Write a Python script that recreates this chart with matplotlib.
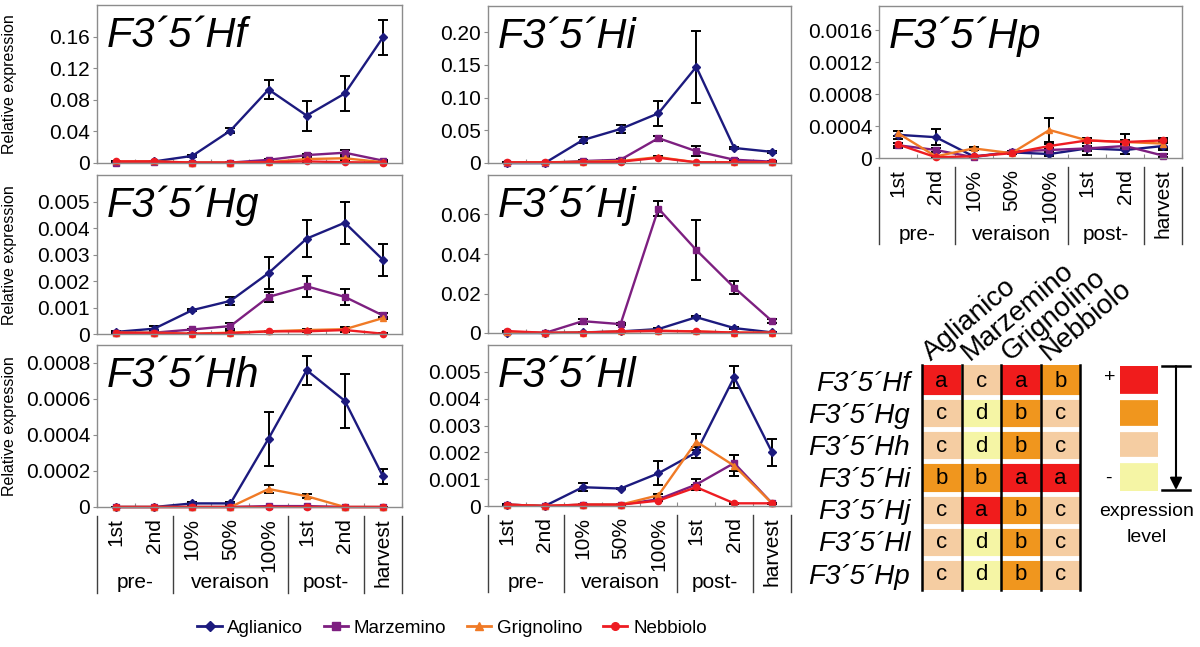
import matplotlib
matplotlib.use('Agg')
import matplotlib.pyplot as plt
from matplotlib.colors import ListedColormap
from matplotlib.lines import Line2D
import numpy as np

plt.rcParams['font.family'] = ['Liberation Sans', 'DejaVu Sans']

# ---------------- data ----------------
stages = ['1st', '2nd', '10%', '50%', '100%', '1st', '2nd', 'harvest']
groups = ['pre-', 'veraison', 'post-']
group_centers = [0.5, 3, 5.5]
group_edges = [-0.5, 1.5, 4.5, 6.5, 7.5]
cultivars = ['Aglianico', 'Marzemino', 'Grignolino', 'Nebbiolo']

# each gene: rows = Aglianico, Marzemino, Grignolino, Nebbiolo
hf_val = [[0.001, 0.002, 0.009, 0.041, 0.093, 0.060, 0.088, 0.159],
          [0.0005, 0.001, 0.0005, 0.0005, 0.004, 0.010, 0.013, 0.003],
          [0.002, 0.002, 0.0005, 0.0005, 0.001, 0.005, 0.006, 0.001],
          [0.002, 0.002, 0.0005, 0.0005, 0.001, 0.002, 0.001, 0.0005]]
hf_err = [[0.0005, 0.0005, 0.001, 0.003, 0.012, 0.019, 0.022, 0.022],
          [0.0003, 0.0003, 0.0003, 0.0003, 0.001, 0.002, 0.003, 0.001],
          [0.0003, 0.0003, 0.0003, 0.0003, 0.0005, 0.001, 0.002, 0.0005],
          [0.0003, 0.0003, 0.0003, 0.0003, 0.0005, 0.0005, 0.0005, 0.0003]]

hi_val = [[0.0, 0.0, 0.035, 0.052, 0.076, 0.147, 0.023, 0.017],
          [0.0, 0.0, 0.003, 0.005, 0.038, 0.018, 0.005, 0.002],
          [0.001, 0.001, 0.002, 0.003, 0.009, 0.001, 0.001, 0.001],
          [0.001, 0.001, 0.001, 0.002, 0.008, 0.001, 0.001, 0.001]]
hi_err = [[0.0, 0.0, 0.005, 0.006, 0.019, 0.055, 0.002, 0.001],
          [0.0, 0.0, 0.001, 0.001, 0.004, 0.008, 0.001, 0.001],
          [0.0, 0.0, 0.001, 0.001, 0.001, 0.001, 0.0, 0.0],
          [0.0, 0.0, 0.0, 0.001, 0.001, 0.0, 0.0, 0.0]]

hp_val = [[0.00029, 0.00026, 0.00002, 0.00007, 0.00005, 0.00012, 0.00010, 0.00015],
          [0.00016, 0.00010, 0.00001, 0.00008, 0.00010, 0.00012, 0.00015, 0.00003],
          [0.00031, 0.00002, 0.00012, 0.00006, 0.00035, 0.00022, 0.00020, 0.00018],
          [0.00017, 0.00001, 0.00002, 0.00006, 0.00015, 0.00022, 0.00020, 0.00022]]
hp_err = [[0.00005, 0.00010, 0.00001, 0.00001, 0.00002, 0.00008, 0.00005, 0.00005],
          [0.00003, 0.00002, 0.00001, 0.00001, 0.00003, 0.00003, 0.00003, 0.00002],
          [0.00003, 0.00001, 0.00002, 0.00001, 0.00015, 0.00003, 0.00010, 0.00005],
          [0.00002, 0.00001, 0.00001, 0.00001, 0.00002, 0.00003, 0.00003, 0.00003]]

hg_val = [[0.00008, 0.0002, 0.0009, 0.00125, 0.0023, 0.0036, 0.0042, 0.0028],
          [0.00005, 0.00005, 0.00017, 0.0003, 0.0014, 0.0018, 0.0014, 0.0007],
          [0.00005, 0.00005, 0.00001, 0.00005, 0.0001, 0.00015, 0.00018, 0.0006],
          [0.00005, 0.00003, 0.00001, 0.00003, 0.0001, 0.0001, 0.00015, 0.00001]]
hg_err = [[0.00002, 0.0001, 0.00005, 0.00015, 0.0006, 0.0007, 0.0008, 0.0006],
          [0.00001, 0.00001, 0.00003, 0.0001, 0.0002, 0.0004, 0.0003, 0.0001],
          [0.00001, 0.00001, 0.00001, 0.00005, 0.00003, 0.00005, 0.0001, 0.00005],
          [0.00001, 0.00001, 0.00001, 0.00001, 0.00002, 0.00003, 0.00005, 0.00001]]

hj_val = [[0.0, 0.0, 0.0003, 0.0008, 0.002, 0.008, 0.0025, 0.0003],
          [0.0005, 0.0, 0.006, 0.0045, 0.063, 0.042, 0.023, 0.006],
          [0.0005, 0.0, 0.0002, 0.0008, 0.0012, 0.0008, 0.0002, 0.0002],
          [0.001, 0.0001, 0.0002, 0.0008, 0.001, 0.0008, 0.0002, 0.0001]]
hj_err = [[0.0, 0.0, 0.0001, 0.0001, 0.0003, 0.0005, 0.0003, 0.0001],
          [0.0003, 0.0, 0.0012, 0.0005, 0.004, 0.015, 0.0034, 0.001],
          [0.0001, 0.0, 0.0001, 0.0001, 0.0001, 0.0001, 0.0001, 0.0001],
          [0.0001, 0.0, 0.0001, 0.0001, 0.0001, 0.0001, 0.0001, 0.0001]]

hh_val = [[0.0, 0.0, 0.00002, 0.00002, 0.00038, 0.00076, 0.00059, 0.00017],
          [0.0, 0.0, 0.0, 0.0, 0.000005, 0.000005, 0.0, 0.0],
          [0.0, 0.0, 0.0, 0.0, 0.0001, 0.00006, 0.0, 0.0],
          [0.0, 0.0, 0.0, 0.0, 0.0, 0.0, 0.0, 0.0]]
hh_err = [[0.0, 0.0, 0.00001, 0.00001, 0.00015, 0.00008, 0.00015, 0.00004],
          [0.0, 0.0, 0.0, 0.0, 0.0, 0.0, 0.0, 0.0],
          [0.0, 0.0, 0.0, 0.0, 0.00002, 0.00001, 0.0, 0.0],
          [0.0, 0.0, 0.0, 0.0, 0.0, 0.0, 0.0, 0.0]]

hl_val = [[0.00005, 0.0, 0.0007, 0.00065, 0.00122, 0.002, 0.0048, 0.002],
          [0.00005, 0.0, 0.00005, 0.00005, 0.00025, 0.0008, 0.0016, 0.0001],
          [0.00005, 0.0, 0.00005, 0.00005, 0.0004, 0.0024, 0.0015, 0.0001],
          [0.00005, 0.0, 0.00005, 0.00005, 0.0002, 0.0007, 0.0001, 0.0001]]
hl_err = [[0.00001, 0.0, 0.00015, 0.00003, 0.00045, 0.0002, 0.0004, 0.0005],
          [0.00001, 0.0, 0.00001, 0.00001, 0.00005, 0.0002, 0.0003, 0.00002],
          [0.00001, 0.0, 0.00001, 0.00001, 0.00005, 0.0003, 0.0004, 0.00002],
          [0.00001, 0.0, 0.00001, 0.00001, 0.00003, 0.0001, 0.00002, 0.00002]]

# heat map of expression classes
genes = ['F3\u00b45\u00b4Hf', 'F3\u00b45\u00b4Hg', 'F3\u00b45\u00b4Hh', 'F3\u00b45\u00b4Hi',
         'F3\u00b45\u00b4Hj', 'F3\u00b45\u00b4Hl', 'F3\u00b45\u00b4Hp']
classes = [['a', 'c', 'a', 'b'],
           ['c', 'd', 'b', 'c'],
           ['c', 'd', 'b', 'c'],
           ['b', 'b', 'a', 'a'],
           ['c', 'a', 'b', 'c'],
           ['c', 'd', 'b', 'c'],
           ['c', 'd', 'b', 'c']]
levels = ['a', 'b', 'c', 'd']

# ---------------- style ----------------
colors = {'Aglianico': '#1c1a7e', 'Marzemino': '#7d1f80',
          'Grignolino': '#f07a26', 'Nebbiolo': '#ee1c22'}
markers = {'Aglianico': 'D', 'Marzemino': 's', 'Grignolino': '^', 'Nebbiolo': 'o'}
msizes = {'Aglianico': 4, 'Marzemino': 4.5, 'Grignolino': 5, 'Nebbiolo': 4.5}
level_colors = ['#f01c1c', '#f0961e', '#f5cda2', '#f5f5a5']
frame_col = '#8c8c8c'

W, H = 1200, 647
fig = plt.figure(figsize=(W / 100, H / 100), dpi=100)


def px_axes(x0, y0, x1, y1):
    return fig.add_axes([x0 / W, 1 - y1 / H, (x1 - x0) / W, (y1 - y0) / H])


def panel(box, title, vals, errs, top, ticks, ticklabels, stage_axis=False):
    ax = px_axes(*box)
    x = np.arange(len(stages))
    for name, v, e in zip(cultivars, vals, errs):
        cont = ax.errorbar(x, v, yerr=e, color=colors[name], marker=markers[name],
                           ms=msizes[name], lw=1.7, ecolor='black', elinewidth=1.4,
                           capsize=3.5, capthick=1.4)
        for art in cont.get_children():
            art.set_clip_on(False)
    ax.set_xlim(-0.5, len(stages) - 0.5)
    ax.set_ylim(0, top)
    ax.set_yticks(ticks)
    ax.set_yticklabels(ticklabels, fontsize=15)
    ax.set_xticks(np.arange(len(stages) + 1) - 0.5)
    ax.set_xticklabels([])
    ax.tick_params(axis='x', direction='in', length=3, color=frame_col)
    ax.tick_params(axis='y', direction='out', length=3, color=frame_col, pad=2)
    for sp in ax.spines.values():
        sp.set_color(frame_col)
        sp.set_linewidth(1)
    ax.annotate(title, xy=(0, 1), xycoords='axes fraction', xytext=(10, -42),
                textcoords='offset pixels', fontsize=30, style='italic',
                ha='left', va='baseline')
    if stage_axis:
        tr = ax.get_xaxis_transform()
        h = ax.bbox.height
        for i, s in enumerate(stages):
            ax.annotate(s, xy=(i, 0), xycoords=tr, xytext=(0, -11),
                        textcoords='offset pixels', rotation=90,
                        ha='center', va='top', fontsize=15)
        for g, c in zip(groups, group_centers):
            ax.annotate(g, xy=(c, 0), xycoords=tr, xytext=(0, -76),
                        textcoords='offset pixels', ha='center', va='center',
                        fontsize=15)
        for b in group_edges:
            ax.plot([b, b], [-9 / h, -86 / h], transform=tr, clip_on=False,
                    color='#404040', lw=1)
    return ax


panel((97, 5, 402, 163), 'F3\u00b45\u00b4Hf', hf_val, hf_err, 0.2,
      [0, 0.04, 0.08, 0.12, 0.16], ['0', '0.04', '0.08', '0.12', '0.16'])
panel((488, 6, 791, 163), 'F3\u00b45\u00b4Hi', hi_val, hi_err, 0.24,
      [0, 0.05, 0.10, 0.15, 0.20], ['0', '0.05', '0.10', '0.15', '0.20'])
panel((879, 6, 1182, 158), 'F3\u00b45\u00b4Hp', hp_val, hp_err, 0.0019,
      [0, 0.0004, 0.0008, 0.0012, 0.0016], ['0', '0.0004', '0.0008', '0.0012', '0.0016'],
      stage_axis=True)
panel((97, 175, 402, 334), 'F3\u00b45\u00b4Hg', hg_val, hg_err, 0.006,
      [0, 0.001, 0.002, 0.003, 0.004, 0.005],
      ['0', '0.001', '0.002', '0.003', '0.004', '0.005'])
panel((488, 175, 791, 333), 'F3\u00b45\u00b4Hj', hj_val, hj_err, 0.08,
      [0, 0.02, 0.04, 0.06], ['0', '0.02', '0.04', '0.06'])
panel((97, 345, 402, 507), 'F3\u00b45\u00b4Hh', hh_val, hh_err, 0.0009,
      [0, 0.0002, 0.0004, 0.0006, 0.0008], ['0', '0.0002', '0.0004', '0.0006', '0.0008'],
      stage_axis=True)
panel((488, 345, 791, 506), 'F3\u00b45\u00b4Hl', hl_val, hl_err, 0.006,
      [0, 0.001, 0.002, 0.003, 0.004, 0.005],
      ['0', '0.001', '0.002', '0.003', '0.004', '0.005'], stage_axis=True)

# ---------------- heat map ----------------
cmap = ListedColormap(level_colors)
codes = np.array([[levels.index(c) for c in row] for row in classes])
hax = px_axes(922, 365, 1080, 590)
hax.imshow(codes, cmap=cmap, vmin=-0.5, vmax=3.5, aspect='auto',
           interpolation='nearest', extent=(0, len(cultivars), len(genes), 0))
for r in range(1, len(genes)):
    hax.axhline(r, color='white', lw=3.5)
for c in range(len(cultivars) + 1):
    hax.axvline(c, color='black', lw=1.8, clip_on=False)
for r, row in enumerate(classes):
    for c, lev in enumerate(row):
        hax.text(c + 0.5, r + 0.52, lev, ha='center', va='center', fontsize=16)
    hax.text(-0.3, r + 0.8, genes[r], ha='right', va='baseline', fontsize=20,
             style='italic')
for c, name in enumerate(cultivars):
    hax.text(c + 0.22, -0.12, name, rotation=40, rotation_mode='anchor',
             ha='left', va='baseline', fontsize=20)
hax.set_xlim(0, len(cultivars))
hax.set_ylim(len(genes), 0)
hax.axis('off')

# key
kax = px_axes(1120, 366, 1158, 491)
kax.imshow(np.arange(len(levels)).reshape(-1, 1), cmap=cmap, vmin=-0.5, vmax=3.5,
           aspect='auto', interpolation='nearest', extent=(0, 1, len(levels), 0))
for r in range(1, len(levels)):
    kax.axhline(r, color='white', lw=4.5)
kax.axis('off')

# overlay in pixel coordinates for free text
ov = fig.add_axes([0, 0, 1, 1])
ov.set_xlim(0, W)
ov.set_ylim(H, 0)
ov.axis('off')
for yc in [84, 255, 426]:
    ov.text(10, yc, 'Relative expression', rotation=90, ha='center', va='center',
            fontsize=11.5)
ov.text(1110, 378, '+', ha='center', va='center', fontsize=14)
ov.text(1108, 478, '-', ha='center', va='center', fontsize=14)
ov.plot([1162, 1190], [366, 366], color='black', lw=1.8)
ov.plot([1162, 1190], [490, 490], color='black', lw=1.8)
ov.annotate('', xy=(1176, 490), xytext=(1176, 366),
            arrowprops=dict(arrowstyle='-|>', color='black', lw=1.5,
                            mutation_scale=18, shrinkA=0, shrinkB=0))
ov.text(1147, 512, 'expression', ha='center', va='center', fontsize=14)
ov.text(1147, 537, 'level', ha='center', va='center', fontsize=14)

# legend
handles = [Line2D([], [], color=colors[n], marker=markers[n], ms=msizes[n] + 1, lw=2)
           for n in cultivars]
fig.legend(handles, cultivars, loc='center', bbox_to_anchor=(452 / W, 1 - 628 / H),
           ncol=4, frameon=False, fontsize=13.5, handlelength=1.3,
           handletextpad=0.3, columnspacing=1.1)

fig.savefig('out.png', dpi=100)
